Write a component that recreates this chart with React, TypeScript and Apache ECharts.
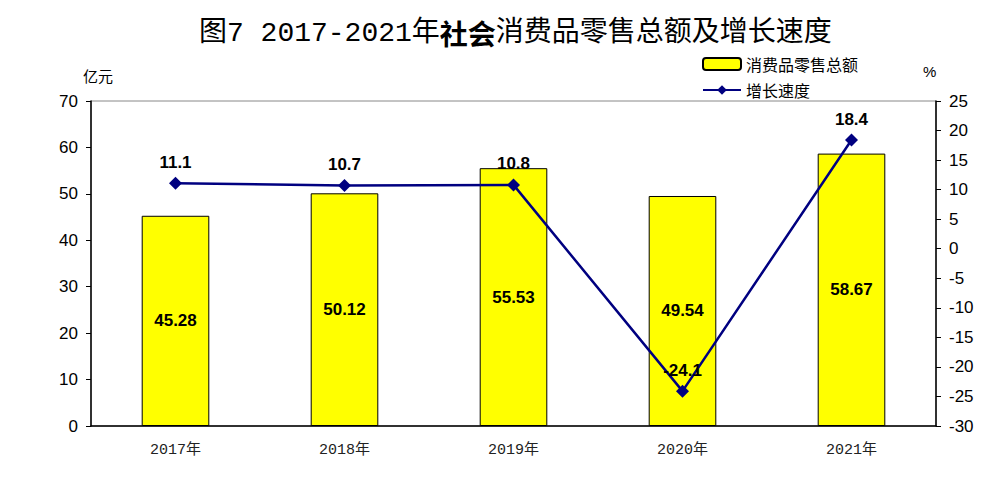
import React, { useEffect, useRef } from "react";
import * as echarts from "echarts";

const categories = ["2017年", "2018年", "2019年", "2020年", "2021年"];
const salesValues = [45.28, 50.12, 55.53, 49.54, 58.67];
const growthValues = [11.1, 10.7, 10.8, -24.1, 18.4];
const salesName = "消费品零售总额";
const growthName = "增长速度";

export default function App() {
  const ref = useRef<HTMLDivElement>(null);
  useEffect(() => {
    if (!ref.current) return;
    const chart = echarts.init(ref.current, undefined, { renderer: "svg" });
    const sans = "Liberation Sans, Arial, Noto Sans CJK SC, sans-serif";
    const mono = "Liberation Mono, Noto Sans CJK SC, monospace";
    chart.setOption({
      animation: false,
      backgroundColor: "#ffffff",
      title: {
        text: "{a|图7 2017-2021年}{b|社会}{a|消费品零售总额及增长速度}",
        left: 194,
        top: 14,
        textStyle: {
          rich: {
            a: { fontFamily: mono, fontSize: 28, color: "#000", fontWeight: "normal" },
            b: { fontFamily: "Noto Sans CJK SC, sans-serif", fontSize: 28, color: "#000", fontWeight: "bold" },
          },
        },
      },
      legend: {
        orient: "vertical",
        left: 697,
        top: 51,
        itemWidth: 38,
        itemHeight: 12,
        itemGap: 10,
        textStyle: { fontFamily: "Noto Sans CJK SC, sans-serif", fontSize: 16, color: "#000" },
        data: [salesName, growthName],
      },
      grid: {
        left: 91,
        right: 70,
        top: 101,
        bottom: 55,
        show: true,
        borderColor: "#888",
        borderWidth: 1,
      },
      xAxis: {
        type: "category",
        data: categories,
        axisLine: { lineStyle: { color: "#000", width: 1.5 } },
        axisTick: { inside: true, length: 5, lineStyle: { color: "#000" } },
        axisLabel: { fontFamily: mono, fontSize: 15, color: "#222", margin: 17 },
      },
      yAxis: [
        {
          type: "value",
          min: 0,
          max: 70,
          interval: 10,
          name: "亿元",
          nameLocation: "end",
          nameGap: 18,
          nameTextStyle: { fontFamily: "Noto Sans CJK SC, sans-serif", fontSize: 15, color: "#000", align: "right", padding: [0, -22, 0, 0] },
          splitLine: { show: false },
          axisLine: { show: true, lineStyle: { color: "#000", width: 1.5 } },
          axisTick: { show: true, length: 5, lineStyle: { color: "#000" } },
          axisLabel: { fontFamily: sans, fontSize: 17, color: "#000", margin: 13 },
        },
        {
          type: "value",
          min: -30,
          max: 25,
          interval: 5,
          name: "%",
          nameLocation: "end",
          nameGap: 22,
          nameTextStyle: { fontFamily: sans, fontSize: 15, color: "#000", align: "left", padding: [0, 0, 0, -13] },
          splitLine: { show: false },
          axisLine: { show: true, lineStyle: { color: "#000", width: 1.5 } },
          axisTick: { show: true, length: 5, lineStyle: { color: "#000" } },
          axisLabel: { fontFamily: sans, fontSize: 17, color: "#000", margin: 13 },
        },
      ],
      series: [
        {
          name: salesName,
          type: "bar",
          data: salesValues,
          barWidth: "40%",
          itemStyle: { color: "#ffff00", borderColor: "#000", borderWidth: 1 },
          label: {
            show: true,
            position: "inside",
            fontFamily: sans,
            fontSize: 17,
            fontWeight: "bold",
            color: "#000",
          },
        },
        {
          name: growthName,
          type: "line",
          yAxisIndex: 1,
          data: growthValues,
          symbol: "diamond",
          symbolSize: 13,
          color: "#000080",
          lineStyle: { color: "#000080", width: 2.5 },
          itemStyle: { color: "#000080" },
          label: {
            show: true,
            position: "top",
            distance: 6,
            fontFamily: sans,
            fontSize: 17,
            fontWeight: "bold",
            color: "#000",
          },
        },
      ],
    });
    return () => chart.dispose();
  }, []);
  return (
    <div
      ref={ref}
      style={{ position: "absolute", left: 0, top: 0, width: 1006, height: 481 }}
    />
  );
}
